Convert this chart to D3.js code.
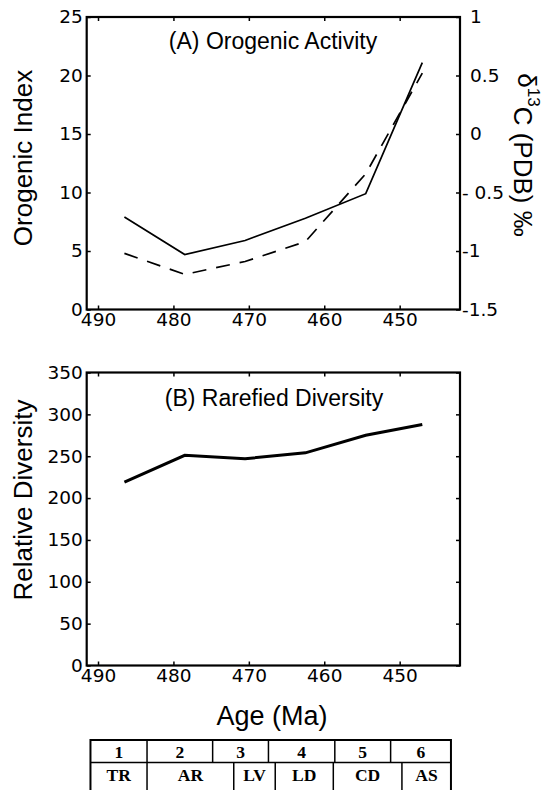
<!DOCTYPE html>
<html>
<head>
<meta charset="utf-8">
<script src="https://cdn.jsdelivr.net/npm/d3@7"></script>
<style>
body { margin: 0; background: #fff; }
svg { display: block; }
.tick text { font-family: "DejaVu Sans", sans-serif; font-size: 18.5px; fill: #000; }
.tick line { stroke: #000; stroke-width: 1.5; }
.label { font-family: "Liberation Sans", Arial, sans-serif; fill: #000; }
.cell { font-family: "Liberation Serif", serif; font-weight: bold; font-size: 17.5px; fill: #000; }
</style>
</head>
<body>
<div id="chart"></div>
<script>
/*global d3*/

//ages of the data points (Ma)
var ages = [486.5, 478.5, 470.5, 462.5, 454.5, 447];

//panel A: orogenic index (solid, left) and d13C (dashed, right)
var orogenicIndex = [7.9, 4.7, 5.9, 7.8, 9.9, 21.1];
var carbonIsotope = [-1.02, -1.2, -1.09, -0.92, -0.34, 0.52];

//panel B: rarefied diversity
var diversity = [219, 251, 247, 254, 275, 288];

//ticks
var ageTicks = [490, 480, 470, 460, 450];
var orogenicTicks = [0, 5, 10, 15, 20, 25];
var carbonTicks = [-1.5, -1, -0.5, 0, 0.5, 1];
var carbonTickLabels = ["-1.5", "-1", "- 0.5", "0", "0.5", "1"];
var diversityTicks = [0, 50, 100, 150, 200, 250, 300, 350];

//stage table under the chart
var stageNames = ["1", "2", "3", "4", "5", "6"];
var stageBounds = [491, 483.5, 474.8, 467.4, 458.6, 451.2, 443.2];
var zoneNames = ["TR", "AR", "LV", "LD", "CD", "AS"];
var zoneBounds = [491, 483.5, 472, 466.5, 458.8, 449.7, 443.2];

var W = 551, H = 790;
var left = 86.7, right = 460;
var panelA = {top: 17, bottom: 309.5};
var panelB = {top: 372.5, bottom: 665.5};

var svg = d3.select("#chart").append("svg")
    .attr("width", W)
    .attr("height", H);

var x = d3.scaleLinear().domain([491.5, 442]).range([left, right]);

var yOro = d3.scaleLinear().domain([0, 25]).range([panelA.bottom, panelA.top]);
var yC = d3.scaleLinear().domain([-1.5, 1]).range([panelA.bottom, panelA.top]);
var yDiv = d3.scaleLinear().domain([0, 350]).range([panelB.bottom, panelB.top]);

//draws the box, ticks on all four sides and labels on the given ones
var drawFrame = function(panel, yLeft, leftTicks, yRight, rightTicks, rightLabels){

    var g = svg.append("g");

    g.append("g")
        .attr("transform", "translate(0," + panel.bottom + ")")
        .call(d3.axisBottom(x).tickValues(ageTicks).tickSizeInner(-4).tickSizeOuter(0).tickPadding(3).tickFormat(d3.format("d")));

    g.append("g")
        .attr("transform", "translate(0," + panel.top + ")")
        .call(d3.axisTop(x).tickValues(ageTicks).tickSizeInner(-4).tickSizeOuter(0).tickFormat(""));

    g.append("g")
        .attr("transform", "translate(" + left + ",0)")
        .call(d3.axisLeft(yLeft).tickValues(leftTicks).tickSizeInner(-4).tickSizeOuter(0).tickPadding(4).tickFormat(d3.format("d")));

    var r = g.append("g")
        .attr("transform", "translate(" + right + ",0)")
        .call(d3.axisRight(yRight).tickValues(rightTicks).tickSizeInner(-4).tickSizeOuter(0)
            .tickFormat(function(d, i){ return rightLabels ? rightLabels[i] : ""; }));

    if(rightLabels){
        r.selectAll(".tick text")
            .attr("x", function(d, i){ return rightLabels[i].charAt(0) === "-" ? 2 : 10; });
    }

    g.selectAll(".domain").remove();

    g.append("rect")
        .attr("x", left)
        .attr("y", panel.top)
        .attr("width", right - left)
        .attr("height", panel.bottom - panel.top)
        .attr("fill", "none")
        .attr("stroke", "#000")
        .attr("stroke-width", 2.2);
};

drawFrame(panelA, yOro, orogenicTicks, yC, carbonTicks, carbonTickLabels);
drawFrame(panelB, yDiv, diversityTicks, yDiv, diversityTicks, null);

//lines
var lineOro = d3.line()
    .x(function(d, i){ return x(ages[i]); })
    .y(function(d){ return yOro(d); });

var lineC = d3.line()
    .x(function(d, i){ return x(ages[i]); })
    .y(function(d){ return yC(d); });

var lineDiv = d3.line()
    .x(function(d, i){ return x(ages[i]); })
    .y(function(d){ return yDiv(d); });

svg.append("path")
    .attr("d", lineOro(orogenicIndex))
    .attr("fill", "none")
    .attr("stroke", "#000")
    .attr("stroke-width", 1.7);

svg.append("path")
    .attr("d", lineC(carbonIsotope))
    .attr("fill", "none")
    .attr("stroke", "#000")
    .attr("stroke-width", 1.7)
    .attr("stroke-dasharray", "14,10");

svg.append("path")
    .attr("d", lineDiv(diversity))
    .attr("fill", "none")
    .attr("stroke", "#000")
    .attr("stroke-width", 3);

//panel titles
svg.append("text")
    .attr("class", "label")
    .attr("x", 273)
    .attr("y", 49)
    .attr("text-anchor", "middle")
    .style("font-size", "23px")
    .text("(A) Orogenic Activity");

svg.append("text")
    .attr("class", "label")
    .attr("x", 274)
    .attr("y", 406)
    .attr("text-anchor", "middle")
    .style("font-size", "23px")
    .text("(B) Rarefied Diversity");

//axis titles
svg.append("text")
    .attr("class", "label")
    .attr("transform", "translate(23,158) rotate(-90)")
    .attr("text-anchor", "middle")
    .attr("dominant-baseline", "central")
    .style("font-size", "26px")
    .text("Orogenic Index");

svg.append("text")
    .attr("class", "label")
    .attr("transform", "translate(23,500) rotate(-90)")
    .attr("text-anchor", "middle")
    .attr("dominant-baseline", "central")
    .style("font-size", "26px")
    .text("Relative Diversity");

var cTitle = svg.append("text")
    .attr("class", "label")
    .attr("transform", "translate(527,155) rotate(90)")
    .attr("text-anchor", "middle")
    .attr("dominant-baseline", "central")
    .style("font-size", "26px");
cTitle.append("tspan").text("\u03B4");
cTitle.append("tspan").attr("dy", "-0.4em").style("font-size", "17px").text("13");
cTitle.append("tspan").attr("dy", "0.4em").text("C (PDB) \u2030");

svg.append("text")
    .attr("class", "label")
    .attr("x", 272)
    .attr("y", 725)
    .attr("text-anchor", "middle")
    .style("font-size", "27px")
    .text("Age (Ma)");

//stage / zone table
var tTop = 740, tMid = 762.5, tBot = 800;
var table = svg.append("g");

table.append("rect")
    .attr("x", x(stageBounds[0]))
    .attr("y", tTop)
    .attr("width", x(stageBounds[stageBounds.length - 1]) - x(stageBounds[0]))
    .attr("height", tBot - tTop)
    .attr("fill", "none")
    .attr("stroke", "#000")
    .attr("stroke-width", 2);

table.append("line")
    .attr("x1", x(stageBounds[0])).attr("x2", x(stageBounds[stageBounds.length - 1]))
    .attr("y1", tMid).attr("y2", tMid)
    .attr("stroke", "#000").attr("stroke-width", 1.5);

table.selectAll(".stageDiv")
    .data(stageBounds.slice(1, -1))
    .enter().append("line")
        .attr("x1", function(d){ return x(d); }).attr("x2", function(d){ return x(d); })
        .attr("y1", tTop).attr("y2", tMid)
        .attr("stroke", "#000").attr("stroke-width", 1.5);

table.selectAll(".zoneDiv")
    .data(zoneBounds.slice(1, -1))
    .enter().append("line")
        .attr("x1", function(d){ return x(d); }).attr("x2", function(d){ return x(d); })
        .attr("y1", tMid).attr("y2", tBot)
        .attr("stroke", "#000").attr("stroke-width", 1.5);

table.selectAll(".stageName")
    .data(stageNames)
    .enter().append("text")
        .attr("class", "cell")
        .attr("x", function(d, i){ return (x(stageBounds[i]) + x(stageBounds[i + 1])) / 2; })
        .attr("y", 757.5)
        .attr("text-anchor", "middle")
        .text(function(d){ return d; });

table.selectAll(".zoneName")
    .data(zoneNames)
    .enter().append("text")
        .attr("class", "cell")
        .attr("x", function(d, i){ return (x(zoneBounds[i]) + x(zoneBounds[i + 1])) / 2; })
        .attr("y", 780.5)
        .attr("text-anchor", "middle")
        .text(function(d){ return d; });
</script>
</body>
</html>
